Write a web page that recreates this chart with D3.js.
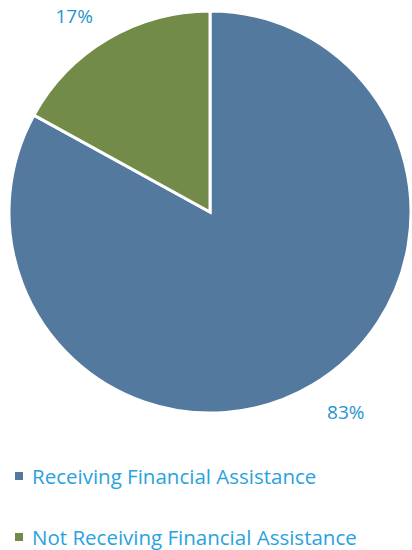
<!DOCTYPE html>
<html>
<head>
<meta charset="utf-8">
<script src="https://cdn.jsdelivr.net/npm/d3@7"></script>
<style>
  body { margin: 0; background: #fff; }
  text { font-family: "Open Sans", "Noto Sans", sans-serif; }
</style>
</head>
<body>
<svg width="412" height="550"></svg>
<script>
var categories = ["Receiving Financial Assistance", "Not Receiving Financial Assistance"];
var values = [83, 17];
var labels = ["83%", "17%"];
var colors = ["#54799f", "#738b48"];

var svg = d3.select("svg"),
    cx = 210,
    cy = 212,
    radius = 201;

var data = categories.map((c, i) => ({ name: c, value: values[i], label: labels[i], color: colors[i] }));

var pie = d3.pie().sort(null).value(d => d.value);
var arc = d3.arc().innerRadius(0).outerRadius(radius);

var g = svg.append("g")
    .attr("transform", "translate(" + cx + "," + cy + ")");

var arcs = pie(data);

g.selectAll("path")
    .data(arcs)
    .enter().append("path")
    .attr("d", arc)
    .attr("fill", d => d.data.color)
    .attr("stroke", "#fff")
    .attr("stroke-width", 3);

// percent labels outside the pie, anchored on the side away from it
var labelR = radius + 29;
function mid(d) { return (d.startAngle + d.endAngle) / 2; }

g.selectAll(".lbl")
    .data(arcs)
    .enter().append("text")
    .attr("class", "lbl")
    .attr("text-anchor", d => Math.sin(mid(d)) < 0 ? "end" : "start")
    .attr("font-size", 19)
    .attr("fill", "#1f95d0")
    .attr("x", d => Math.sin(mid(d)) * labelR)
    .attr("y", d => -Math.cos(mid(d)) * labelR + 9)
    .text(d => d.data.label);

// legend
var legend = svg.append("g").attr("transform", "translate(15,470)");
var item = legend.selectAll(".item")
    .data(data)
    .enter().append("g")
    .attr("class", "item")
    .attr("transform", (d, i) => "translate(0," + i * 61 + ")");

item.append("rect")
    .attr("y", 2)
    .attr("width", 8)
    .attr("height", 8)
    .attr("fill", d => d.color);

item.append("text")
    .attr("x", 17)
    .attr("y", 14)
    .attr("font-size", 20.5)
    .attr("fill", "#29a2de")
    .text(d => d.name);
</script>
</body>
</html>
